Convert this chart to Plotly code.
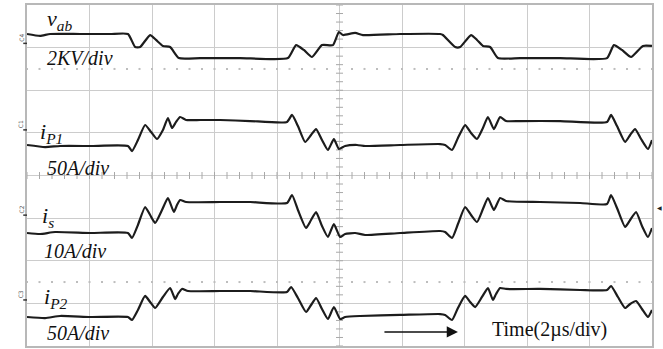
import numpy as np
import plotly.graph_objects as go

# ---- channel settings (scale per division, ground-marker level in divisions) ----
channels = ["C4", "C1", "C2", "C3"]
names = ["v_ab", "i_P1", "i_s", "i_P2"]
scales = [2.0, 50.0, 10.0, 50.0]          # kV/div, A/div, A/div, A/div
ground_div = [7.10, 5.07, 3.07, 1.08]

# ---- waveform readings (time in µs, 2 µs/div) ----
vab_t = [0, 0.42, 0.74, 1.70, 2.66, 3.23, 3.46, 3.62, 3.94, 4.13, 4.35, 4.58, 4.86, 5.54, 6.82,
         8.35, 8.61, 8.86, 9.12, 9.44, 9.79, 9.98, 10.11, 10.50, 10.75, 11.94, 13.22, 13.31, 13.70,
         13.86, 14.21, 14.40, 14.59, 14.82, 15.07, 15.78, 17.06, 18.56, 18.78, 19.04, 19.33, 19.71, 20.00]
vab_kv = [0.44, 0.35, 0.44, 0.44, 0.44, 0.44, -0.17, -0.17, 0.39, 0.16, -0.12, -0.17, -0.69, -0.69, -0.69,
          -0.69, -0.08, -0.31, -0.64, -0.08, -0.08, 0.53, 0.39, 0.49, 0.39, 0.44, 0.44, 0.39, -0.17,
          -0.17, 0.39, 0.16, -0.12, -0.17, -0.69, -0.69, -0.69, -0.69, -0.08, -0.31, -0.64, -0.12, -0.12]

ip1_t = [0, 0.58, 1.06, 2.02, 3.23, 3.36, 3.55, 3.78, 3.97, 4.16, 4.35, 4.51, 4.64, 4.77, 4.90,
         5.09, 5.54, 6.18, 7.14, 8.32, 8.48, 8.67, 8.90, 9.09, 9.25, 9.44, 9.63, 9.82, 9.98, 10.18,
         10.56, 10.82, 11.94, 13.22, 13.38, 13.60, 13.79, 14.02, 14.21, 14.40, 14.59, 14.75, 14.94, 15.14,
         15.33, 15.78, 17.06, 18.56, 18.69, 18.88, 19.14, 19.30, 19.46, 19.65, 19.87, 20.00]
ip1_a = [-17.7, -20.1, -18.9, -18.9, -18.9, -24.8, -11.9, 5.7, -2.5, -10.7, -0.1, 13.9, 2.2, 9.3, 15.1,
         11.6, 11.6, 11.6, 10.4, 9.3, 17.5, 4.5, -14.2, -6.0, 1.0, -11.9, -23.6, -10.7, -22.4, -18.9,
         -17.7, -18.9, -17.7, -16.6, -17.7, -23.6, -9.5, 5.7, -3.7, -10.7, 2.2, 15.1, 1.0, 15.1,
         10.4, 10.4, 10.4, 9.3, 17.5, 4.5, -14.2, -6.0, 1.0, -10.7, -22.4, -11.9]

is_t = [0, 0.42, 0.90, 2.02, 3.23, 3.36, 3.55, 3.78, 3.94, 4.10, 4.32, 4.51, 4.70, 4.80, 4.90,
        5.09, 6.18, 7.14, 8.32, 8.48, 8.67, 8.93, 9.09, 9.25, 9.44, 9.63, 9.82, 10.02, 10.18, 10.50,
        10.82, 11.94, 13.22, 13.38, 13.60, 13.79, 14.02, 14.21, 14.40, 14.59, 14.75, 14.94, 15.14, 15.33,
        16.42, 17.70, 18.56, 18.69, 18.88, 19.14, 19.30, 19.49, 19.68, 19.87, 20.00]
is_a = [-4.19, -4.42, -3.96, -4.19, -4.19, -5.36, -2.31, 1.91, 0.03, -1.84, 1.21, 4.02, 0.74, 2.38, 3.55,
        3.08, 3.08, 3.08, 2.85, 4.72, 1.21, -3.02, -1.14, 0.74, -2.55, -5.13, -2.08, -5.13, -4.42, -4.19,
        -4.66, -4.19, -3.72, -3.96, -5.36, -2.08, 1.91, 0.03, -1.61, 1.44, 4.02, 1.21, 4.02, 3.32,
        3.08, 2.85, 2.61, 4.72, 1.67, -2.78, -1.14, 0.74, -2.55, -5.13, -3.02]

ip2_t = [0, 0.58, 1.06, 2.02, 3.23, 3.36, 3.55, 3.78, 3.94, 4.10, 4.35, 4.58, 4.74, 4.83, 4.96,
         5.15, 6.18, 7.14, 8.32, 8.45, 8.67, 8.93, 9.09, 9.25, 9.44, 9.63, 9.82, 10.02, 10.18, 10.66,
         11.94, 13.22, 13.38, 13.60, 13.79, 14.02, 14.18, 14.34, 14.56, 14.75, 14.91, 15.01, 15.14, 15.33,
         16.42, 17.70, 18.56, 18.69, 18.91, 19.14, 19.30, 19.49, 19.68, 19.87, 20.00]
ip2_a = [-20.0, -21.2, -18.8, -20.0, -20.0, -23.5, -11.8, 4.7, -2.4, -9.4, 3.5, 14.0, 1.1, 7.0, 12.9,
         10.5, 10.5, 10.5, 9.3, 15.2, 2.3, -14.1, -5.9, 2.3, -10.6, -22.3, -8.3, -22.3, -20.0, -18.8,
         -17.6, -16.5, -17.6, -23.5, -9.4, 4.7, -2.4, -8.3, 3.5, 14.0, 0.0, 7.0, 14.0, 12.9,
         12.9, 11.7, 11.7, 16.4, 3.5, -9.4, -4.7, -1.2, -10.6, -20.0, -11.8]

series_t = [vab_t, ip1_t, is_t, ip2_t]
series_v = [vab_kv, ip1_a, is_a, ip2_a]

labels = ["<i>v</i><sub><i>ab</i></sub>", "<i>i</i><sub><i>P1</i></sub>",
          "<i>i</i><sub><i>s</i></sub>", "<i>i</i><sub><i>P2</i></sub>"]
scale_labels = ["<i>2KV/div</i>", "<i>50A/div</i>", "<i>10A/div</i>", "<i>50A/div</i>"]
time_label = "Time(2\u00b5s/div)"

SERIF = "Liberation Serif, Times New Roman, serif"
GRID = "#cccccc"

fig = go.Figure()

# graticule decorations: minor ticks on the centre axes and dotted rows
minor_x = np.arange(0, 20.001, 0.4)
minor_y = np.arange(0, 8.001, 0.2)
fig.add_trace(go.Scatter(x=minor_x, y=np.full(minor_x.shape, 4.0), mode="markers",
                         marker=dict(symbol="line-ns", size=5, line=dict(width=1, color="#a8a8a8")),
                         hoverinfo="skip", showlegend=False))
fig.add_trace(go.Scatter(x=np.full(minor_y.shape, 10.0), y=minor_y, mode="markers",
                         marker=dict(symbol="line-ew", size=5, line=dict(width=1, color="#a8a8a8")),
                         hoverinfo="skip", showlegend=False))
for row in (6.5, 1.5):
    fig.add_trace(go.Scatter(x=minor_x, y=np.full(minor_x.shape, row), mode="markers",
                             marker=dict(symbol="square", size=2, color="#bdbdbd"),
                             hoverinfo="skip", showlegend=False))

# waveforms
for t, v, s, g, n in zip(series_t, series_v, scales, ground_div, names):
    y = [g + val / s for val in v]
    fig.add_trace(go.Scatter(x=t, y=y, mode="lines", name=n,
                             line=dict(color="#1c1c1c", width=2.2, shape="spline", smoothing=0.5),
                             hoverinfo="skip", showlegend=False))

annotations = []
label_pos = [(0.58, 7.65), (0.35, 5.00), (0.42, 3.03), (0.48, 1.13)]
scale_pos = [(0.58, 6.76), (0.58, 4.18), (0.48, 2.23), (0.58, 0.30)]
for (lx, ly), txt in zip(label_pos, labels):
    annotations.append(dict(x=lx, y=ly, xref="x", yref="y", text=txt, showarrow=False,
                            xanchor="left", yanchor="middle",
                            font=dict(family=SERIF, size=22, color="#111")))
for (lx, ly), txt in zip(scale_pos, scale_labels):
    annotations.append(dict(x=lx, y=ly, xref="x", yref="y", text=txt, showarrow=False,
                            xanchor="left", yanchor="middle",
                            font=dict(family=SERIF, size=20, color="#111")))

# channel ground markers on the left edge
for ch, g in zip(channels, ground_div):
    annotations.append(dict(x=-0.009, y=g, xref="paper", yref="y", text=ch, showarrow=False,
                            xanchor="center", yanchor="bottom", textangle=-90,
                            font=dict(family="DejaVu Sans", size=6, color="#555")))

# trigger marker on the right edge
annotations.append(dict(x=1.004, y=3.24, xref="paper", yref="y", text="\u25c0", showarrow=False,
                        xanchor="left", yanchor="middle",
                        font=dict(family="DejaVu Sans", size=6, color="#222")))

# time arrow and label
annotations.append(dict(x=13.79, y=0.33, ax=11.39, ay=0.33, xref="x", yref="y", axref="x", ayref="y",
                        text="", showarrow=True, arrowhead=2, arrowsize=1.4, arrowwidth=1.6,
                        arrowcolor="#111"))
annotations.append(dict(x=14.82, y=0.38, xref="x", yref="y", text=time_label, showarrow=False,
                        xanchor="left", yanchor="middle",
                        font=dict(family=SERIF, size=20, color="#111")))

shapes = []
for g in ground_div:
    shapes.append(dict(type="line", xref="paper", yref="y", x0=-0.006, x1=0.0, y0=g, y1=g,
                       line=dict(color="#333", width=1.5)))

fig.update_layout(
    width=663, height=349, autosize=False,
    margin=dict(l=27, r=11, t=5, b=3),
    paper_bgcolor="white", plot_bgcolor="white",
    annotations=annotations, shapes=shapes,
    xaxis=dict(range=[0, 20], dtick=2, tick0=0, showticklabels=False, ticks="",
               showgrid=True, gridcolor=GRID, gridwidth=1.4, zeroline=False,
               showline=True, mirror=True, linecolor="#b8b8b8", linewidth=2, fixedrange=True),
    yaxis=dict(range=[0, 8], dtick=1, tick0=0, showticklabels=False, ticks="",
               showgrid=True, gridcolor=GRID, gridwidth=1.4, zeroline=False,
               showline=True, mirror=True, linecolor="#b8b8b8", linewidth=2, fixedrange=True),
)

fig.write_html("out.html")
